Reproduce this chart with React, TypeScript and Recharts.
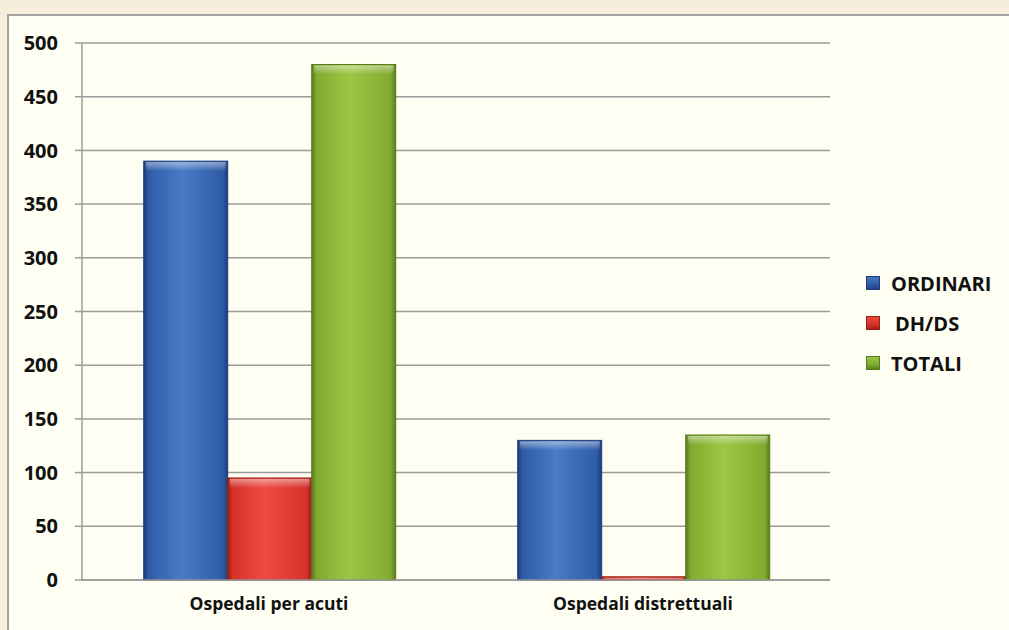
import { BarChart, Bar, XAxis, YAxis, CartesianGrid, Legend } from 'recharts';

const categories = ['Ospedali per acuti', 'Ospedali distrettuali'];
const ordinari = [390, 130];
const dhds = [95, 3];
const totali = [480, 135];
const yTicks = [0, 50, 100, 150, 200, 250, 300, 350, 400, 450, 500];

const series = [
  { key: 'ordinari', name: 'ORDINARI', dark: '#1d3c7c', mid: '#2f5ca6', light: '#4a7bc6' },
  { key: 'dhds', name: 'DH/DS', dark: '#9c1d16', mid: '#d6322a', light: '#ee4c42' },
  { key: 'totali', name: 'TOTALI', dark: '#587a1c', mid: '#80ab30', light: '#9cc744' },
];

const data = categories.map((category, i) => ({
  category,
  ordinari: ordinari[i],
  dhds: dhds[i],
  totali: totali[i],
}));

const font = '"Open Sans", "Liberation Sans", sans-serif';
const LEGEND_W = 140;

function LegendBox() {
  return (
    <div style={{ fontFamily: font, fontWeight: 700, fontSize: 20, color: '#111' }}>
      {series.map((s) => (
        <div key={s.key} style={{ display: 'flex', alignItems: 'center', height: 40 }}>
          <span
            style={{
              display: 'inline-block',
              width: 14,
              height: 14,
              marginRight: 11,
              background: `linear-gradient(to bottom, ${s.light}, ${s.mid} 60%, ${s.dark})`,
              boxShadow: `inset 0 0 0 1px ${s.dark}`,
            }}
          />
          <span style={{ marginLeft: s.key === 'dhds' ? 4 : 0 }}>{s.name}</span>
        </div>
      ))}
    </div>
  );
}

// glossy bar: shaded body plus a soft light bevel along the top edge
function GlossyBar(props: any) {
  const { x, y, width, height, fill, stroke } = props;
  if (!height || height <= 0) return null;
  const bevel = Math.min(9, height - 1);
  return (
    <g>
      <rect x={x} y={y} width={width} height={height} fill={fill} stroke={stroke} strokeWidth={1} />
      {bevel > 0 && (
        <rect x={x + 2} y={y + 1} width={width - 4} height={bevel} fill="url(#bevel)" />
      )}
    </g>
  );
}

export default function App() {
  return (
    <div style={{ position: 'absolute', left: 0, top: 0, width: 1009, height: 630, background: '#f6eedb', overflow: 'hidden' }}>
      <div
        style={{
          position: 'absolute',
          left: 7,
          top: 14,
          width: 1009,
          height: 630,
          background: '#fffef2',
          borderTop: '2px solid #a4a4a4',
          borderLeft: '2px solid #a4a4a4',
        }}
      />
      <div style={{ position: 'absolute', left: 0, top: 0 }}>
        <BarChart
          width={1009}
          height={630}
          data={data}
          margin={{ top: 43, right: 179 - LEGEND_W, bottom: 0, left: 0 }}
          barCategoryGap="16.5%"
          barGap={0}
        >
          <defs>
            {series.map((s) => (
              <linearGradient key={s.key} id={`grad-${s.key}`} x1="0" y1="0" x2="1" y2="0">
                <stop offset="0%" stopColor={s.dark} />
                <stop offset="6%" stopColor={s.mid} />
                <stop offset="45%" stopColor={s.light} />
                <stop offset="94%" stopColor={s.mid} />
                <stop offset="100%" stopColor={s.dark} />
              </linearGradient>
            ))}
            <linearGradient id="bevel" x1="0" y1="0" x2="0" y2="1">
              <stop offset="0%" stopColor="#ffffff" stopOpacity={0.45} />
              <stop offset="100%" stopColor="#ffffff" stopOpacity={0} />
            </linearGradient>
          </defs>
          <CartesianGrid vertical={false} stroke="#9a9a9a" strokeWidth={1.5} />
          <XAxis
            dataKey="category"
            height={50}
            stroke="#9a9a9a"
            strokeWidth={1.5}
            tickLine={false}
            tickMargin={12}
            tick={{ fill: '#111', fontFamily: font, fontWeight: 700, fontSize: 17.5 }}
          />
          <YAxis
            width={82}
            domain={[0, 500]}
            ticks={yTicks}
            interval={0}
            stroke="#9a9a9a"
            strokeWidth={1.5}
            tickSize={7}
            tickMargin={17}
            tick={{ fill: '#111', fontFamily: font, fontWeight: 700, fontSize: 20 }}
          />
          <Legend
            layout="vertical"
            align="right"
            verticalAlign="middle"
            content={<LegendBox />}
            wrapperStyle={{ left: 866, top: 263, width: LEGEND_W }}
          />
          {series.map((s) => (
            <Bar
              key={s.key}
              dataKey={s.key}
              name={s.name}
              fill={`url(#grad-${s.key})`}
              stroke={s.dark}
              shape={<GlossyBar />}
              isAnimationActive={false}
            />
          ))}
        </BarChart>
      </div>
    </div>
  );
}
